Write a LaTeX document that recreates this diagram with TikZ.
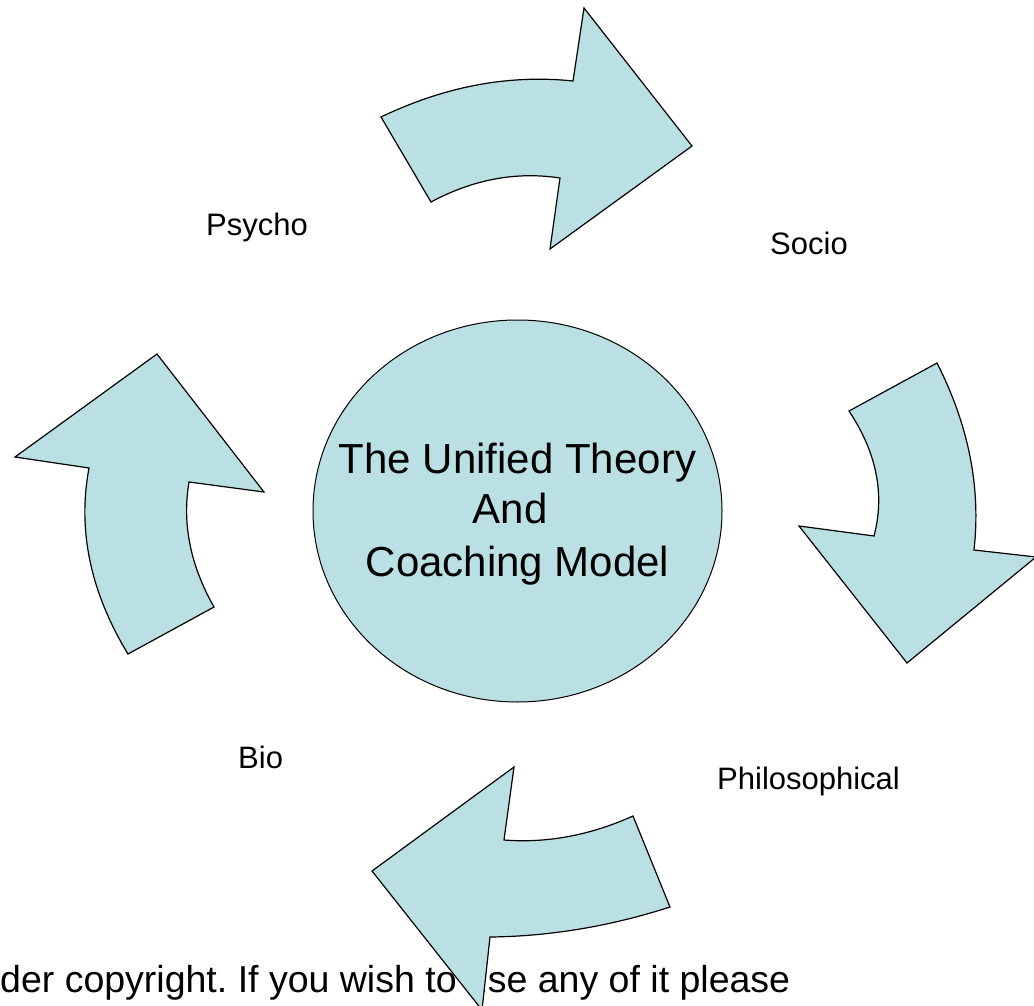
\documentclass[tikz,border=0pt]{standalone}
\usepackage{fontspec}
\setmainfont{Liberation Sans}
\usetikzlibrary{calc,shapes.geometric}
\definecolor{arrowfill}{HTML}{BBE0E3}
\tikzset{
  bigarrow/.style={draw=black, fill=arrowfill, line width=1.2pt, line join=miter},
  label/.style={anchor=base west, inner sep=0pt, font=\fontsize{31}{37}\selectfont},
  coreline/.style={anchor=base, inner sep=0pt, font=\fontsize{42}{50}\selectfont},
}
\frenchspacing
\begin{document}
\begin{tikzpicture}[x=1pt,y=-1pt]
\useasboundingbox (0,0) rectangle (1034,1006);
% footer text (drawn under the arrows)
\node[anchor=base west, inner sep=0pt, font=\fontsize{37.5}{44}\selectfont] (footer) at (0,992) {der copyright. If you wish to use any of it please};
% centre ellipse
\node[ellipse, draw=black, fill=arrowfill, line width=1pt, minimum width=409pt, minimum height=382pt, inner sep=0pt] (core) at (517.5,511) {};
\node[coreline] (l1) at (517.5,473) {The Unified Theory};
\node[coreline] (l2) at (510,523) {And};
\node[coreline] (l3) at (517.5,576) {Coaching Model};
% labels
\node[label] (psycho) at (206,235) {Psycho};
\node[label] (socio) at (770,254) {Socio};
\node[label] (bio) at (238,768) {Bio};
\node[label] (philo) at (717,789) {Philosophical};
% top arrow
\draw[bigarrow] (381,117)
  .. controls ($(381,117)!0.667!(477,71)$) and ($(573,81)!0.667!(477,71)$) .. (573,81)
  -- (584,8) -- (692,146) -- (550,249) -- (560,178)
  .. controls ($(560,178)!0.667!(494.5,168)$) and ($(431,202)!0.667!(494.5,168)$) .. (431,202)
  -- cycle;
% right arrow
\draw[bigarrow] (849,411) -- (937,363)
  .. controls ($(937,363)!0.667!(984.5,456.5)$) and ($(974,550)!0.667!(984.5,456.5)$) .. (974,550)
  -- (1036,557) -- (907,663) -- (799,526) -- (874,536)
  .. controls ($(874,536)!0.667!(890.5,473.5)$) and ($(849,411)!0.667!(890.5,473.5)$) .. (849,411)
  -- cycle;
% left arrow
\draw[bigarrow] (128,654) -- (214,607)
  .. controls ($(214,607)!0.667!(178.5,544.5)$) and ($(189,482)!0.667!(178.5,544.5)$) .. (189,482)
  -- (264,492) -- (157,354) -- (15,457) -- (89,468)
  .. controls ($(89,468)!0.667!(71.5,561)$) and ($(128,654)!0.667!(71.5,561)$) .. (128,654)
  -- cycle;
% bottom arrow
\draw[bigarrow] (514,767) -- (504,840)
  .. controls ($(504,840)!0.667!(568.5,845)$) and ($(633,816)!0.667!(568.5,845)$) .. (633,816)
  -- (670,907)
  .. controls ($(670,907)!0.667!(580,936)$) and ($(490,937)!0.667!(580,936)$) .. (490,937)
  -- (482,1010) -- (372,871) -- cycle;
\end{tikzpicture}
\end{document}
